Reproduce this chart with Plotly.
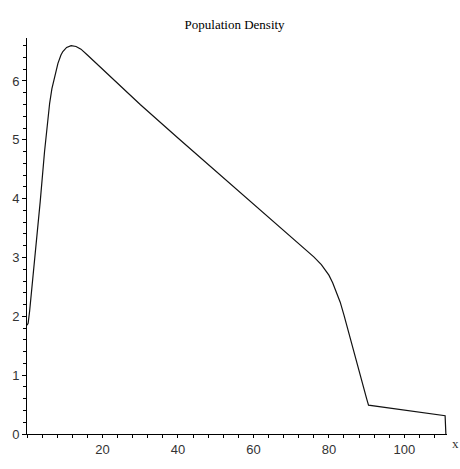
import plotly.graph_objects as go

x_vals = [0, 0.3, 0.7, 1.5, 2.5, 3.5, 4.65, 5.3, 6, 6.6, 7.3, 8.2, 9, 9.5, 10.5, 11.7, 13,
          14.3, 16, 18, 20, 25, 30, 40, 50, 60, 70, 74, 76, 78, 79, 80, 81, 82,
          83, 84, 86, 88, 90, 90.5, 95, 100, 105, 110.8, 111]
y_vals = [1.85, 1.88, 2.09, 2.6, 3.22, 3.95, 4.8, 5.25, 5.62, 5.87, 6.07, 6.3, 6.44, 6.5,
          6.57, 6.6, 6.585, 6.54, 6.44, 6.32, 6.2, 5.9, 5.6, 5.03, 4.47, 3.92, 3.36, 3.13,
          3.01, 2.88, 2.8, 2.7, 2.57, 2.42, 2.24, 2.02, 1.53, 1.06, 0.6, 0.49, 0.45, 0.41,
          0.37, 0.31, 0.0]
x_ticks = [20, 40, 60, 80, 100]
y_ticks = [0, 1, 2, 3, 4, 5, 6]

fig = go.Figure()
fig.add_trace(go.Scatter(x=x_vals, y=y_vals, mode="lines",
                         line=dict(color="#111111", width=1.2)))

tickfont = dict(family="Liberation Sans, Arial, sans-serif", size=13, color="#333333")
fig.update_layout(
    width=460, height=469,
    margin=dict(l=24, r=13, t=38, b=17),
    paper_bgcolor="white", plot_bgcolor="white",
    showlegend=False,
    title=dict(text="Population Density", x=0.51, xanchor="center", y=0.947, yanchor="middle",
               font=dict(family="Liberation Serif, Times New Roman, serif", size=13, color="#000000")),
    xaxis=dict(range=[0, 111.3], tickvals=x_ticks, ticks="outside", ticklen=3, tickcolor="black",
               showline=True, linecolor="black", linewidth=1, showgrid=False, zeroline=False,
               tickfont=tickfont, ticklabelstandoff=0,
               minor=dict(dtick=4, tick0=0, ticks="outside", ticklen=3, tickcolor="black", showgrid=False)),
    yaxis=dict(range=[0, 6.73], tickvals=y_ticks, ticks="outside", ticklen=4, tickcolor="black",
               showline=True, linecolor="black", linewidth=1, showgrid=False, zeroline=False,
               tickfont=tickfont,
               minor=dict(dtick=0.2, tick0=0, ticks="outside", ticklen=3, tickcolor="black", showgrid=False)),
)
fig.add_annotation(text="x", xref="paper", yref="paper", x=1.0, y=0, xanchor="left", yanchor="top",
                   xshift=3, yshift=0, showarrow=False,
                   font=dict(family="Liberation Serif, Times New Roman, serif", size=13, color="#333333"))

fig.write_html("out.html")
